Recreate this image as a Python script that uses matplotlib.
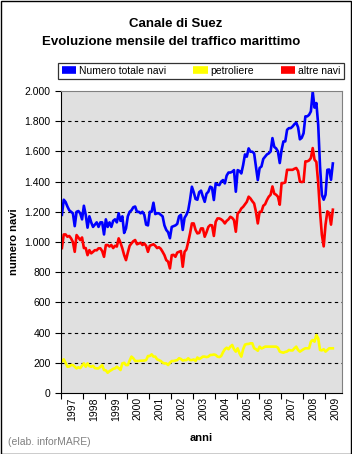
import matplotlib.pyplot as plt
from matplotlib.patches import Rectangle
import numpy as np

# Monthly values, Jan 1997 - May 2009
totale = [
    1180, 1280, 1265, 1235, 1210, 1200, 1190, 1105, 1200, 1205, 1190, 1150,
    1240, 1180, 1095, 1170, 1130, 1100, 1115, 1130, 1100, 1130, 1130, 1050,
    1150, 1100, 1130, 1100, 1140, 1150, 1130, 1190, 1140, 1170, 1060, 1090,
    1170, 1200, 1210, 1230, 1235, 1200, 1200, 1190, 1200, 1180, 1115, 1110,
    1200, 1200, 1260, 1185, 1190, 1190, 1180, 1170, 1110, 1080, 1065, 1025,
    1100, 1105, 1110, 1120, 1170, 1180, 1080, 1160, 1180, 1210, 1280, 1366,
    1330, 1285, 1280, 1330, 1340, 1300, 1266, 1320, 1333, 1366, 1360, 1278,
    1388, 1380, 1377, 1400, 1410, 1388, 1440, 1460, 1460, 1465, 1476, 1333,
    1476, 1470, 1454, 1510, 1580, 1565, 1620, 1598, 1598, 1587, 1498, 1410,
    1490, 1500, 1550, 1565, 1580, 1587, 1600, 1688, 1630, 1620, 1600, 1523,
    1610, 1666, 1666, 1743, 1754, 1754, 1765, 1780, 1790, 1760, 1680, 1690,
    1720, 1832, 1832, 1842, 1865, 1995, 1890, 1920, 1776, 1500, 1313, 1280,
    1313, 1478, 1480, 1412, 1520,
]
petroliere = [
    210, 223, 200, 174, 175, 185, 185, 174, 163, 170, 165, 180,
    196, 174, 196, 178, 174, 180, 165, 163, 163, 174, 185, 152,
    150, 134, 145, 152, 160, 163, 174, 165, 152, 196, 200, 185,
    185, 215, 241, 230, 212, 212, 212, 214, 214, 215, 218, 245,
    245, 256, 241, 241, 223, 218, 212, 201, 196, 196, 185, 200,
    212, 212, 215, 218, 230, 225, 215, 218, 218, 230, 218, 218,
    222, 212, 235, 225, 232, 241, 241, 238, 241, 252, 252, 255,
    252, 241, 238, 245, 270, 290, 300, 290, 307, 318, 290, 274,
    296, 263, 241, 290, 320, 324, 325, 329, 329, 296, 290, 280,
    307, 295, 300, 307, 307, 307, 307, 307, 307, 307, 300, 274,
    270, 267, 272, 275, 285, 282, 282, 296, 307, 285, 274, 282,
    290, 296, 296, 296, 340, 351, 340, 384, 361, 285, 282, 290,
    274, 285, 296, 296, 296,
]
altre = [
    960, 1050, 1050, 1035, 1040, 1024, 1000, 935, 1046, 1030, 1013, 1030,
    960, 960, 913, 946, 925, 935, 946, 945, 958, 958, 940, 902,
    980, 980, 970, 980, 960, 975, 970, 1024, 995, 958, 913, 880,
    930, 975, 991, 1005, 1013, 985, 990, 995, 980, 990, 975, 935,
    975, 980, 985, 975, 960, 965, 955, 935, 913, 880, 870, 825,
    913, 915, 902, 930, 935, 940, 836, 935, 950, 1000, 1057, 1123,
    1123, 1080, 1057, 1060, 1090, 1090, 1035, 1065, 1100, 1112, 1110, 1040,
    1134, 1156, 1156, 1150, 1140, 1123, 1140, 1150, 1167, 1160, 1145, 1068,
    1190, 1200, 1222, 1233, 1250, 1266, 1300, 1288, 1270, 1255, 1200, 1123,
    1200, 1200, 1240, 1250, 1278, 1300, 1313, 1368, 1320, 1313, 1300, 1247,
    1390, 1390, 1395, 1478, 1478, 1478, 1478, 1485, 1490, 1470, 1400, 1397,
    1400, 1534, 1534, 1540, 1556, 1622, 1545, 1530, 1390, 1200, 1048, 971,
    1115, 1203, 1192, 1115, 1214,
]
anni = [str(a) for a in range(1997, 2010)]
y_ticks = [0, 200, 400, 600, 800, 1000, 1200, 1400, 1600, 1800, 2000]
y_labels = ["0", "200", "400", "600", "800", "1.000", "1.200", "1.400",
            "1.600", "1.800", "2.000"]

plt.rcParams['font.family'] = ['Liberation Sans', 'DejaVu Sans']

fig = plt.figure(figsize=(3.52, 4.54), dpi=100)
W, H = 352, 454
ax = fig.add_axes([61 / W, (H - 393) / H, (342 - 61) / W, (393 - 91) / H])
ax.set_facecolor('#E0E0E0')

x = np.arange(len(totale)) + 0.5
ax.plot(x, totale, color='#0000FF', lw=1.9, label='Numero totale navi')
ax.plot(x, petroliere, color='#FFFF00', lw=1.9, label='petroliere')
ax.plot(x, altre, color='#FF0000', lw=1.9, label='altre navi')

ax.set_xlim(0, 153.5)
ax.set_ylim(0, 2000)

# y axis
ax.set_yticks(y_ticks)
ax.set_yticklabels(y_labels, fontsize=7.5)
for v in y_ticks[1:-1]:
    ax.axhline(v, color='black', lw=0.8, ls=(0, (3, 3)), zorder=0)

# x axis: ticks at year boundaries, labels centred in each year
ax.set_xticks(np.arange(0, 145, 12))
ax.set_xticklabels([])
ax.set_xticks(np.arange(6, 151, 12), minor=True)
ax.set_xticklabels(anni, minor=True, rotation=90, fontsize=7.5)
ax.tick_params(axis='x', which='minor', length=0, pad=3)
ax.tick_params(axis='both', which='major', length=4, width=0.8, direction='out')

for s in ['top', 'right']:
    ax.spines[s].set_color('#808080')
for s in ['left', 'bottom']:
    ax.spines[s].set_color('black')

ax.set_ylabel('numero navi', fontsize=8, fontweight='bold', labelpad=4)
ax.set_xlabel('anni', fontsize=8, fontweight='bold', labelpad=9)

fig.text(176 / W, 1 - 24 / H, 'Canale di Suez', ha='center', va='center',
         fontsize=9.5, fontweight='bold')
fig.text(171 / W, 1 - 42 / H, 'Evoluzione mensile del traffico marittimo',
         ha='center', va='center', fontsize=9.5, fontweight='bold')
fig.text(8 / W, 1 - 442 / H, '(elab. inforMARE)', ha='left', va='center',
         fontsize=7.5, color='#808080')

leg = fig.legend(loc='center', bbox_to_anchor=(201 / W, 1 - 71 / H), ncol=3,
                 fontsize=7.5, frameon=True, fancybox=False, handlelength=1.4,
                 handleheight=0.9, handletextpad=0.25, columnspacing=2.6,
                 borderpad=0.3, edgecolor='black')
leg.get_frame().set_linewidth(0.9)
for h in leg.legend_handles:
    h.set_linewidth(5.5)
    h.set_solid_capstyle('butt')

fig.patches.append(Rectangle((0.5 / W, 0.5 / H), 1 - 1.5 / W, 1 - 1.5 / H,
                             transform=fig.transFigure, fill=False,
                             edgecolor='black', lw=1))

fig.savefig('out.png', dpi=100)
